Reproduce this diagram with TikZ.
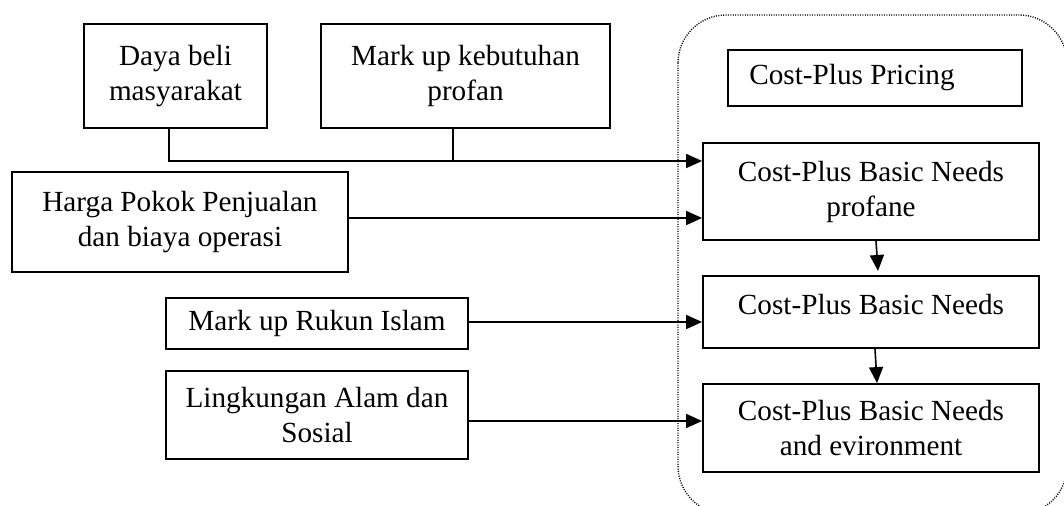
\documentclass[tikz,border=0pt]{standalone}
\usepackage{fontspec}
\setmainfont{Liberation Serif}
\usetikzlibrary{arrows.meta}
\begin{document}
\begin{tikzpicture}[x=0.5pt,y=-0.5pt,
  box/.style={draw,line width=0.9pt,inner sep=0pt,align=center,
    font=\fontsize{14.6pt}{17.5pt}\selectfont},
  conn/.style={line width=0.8pt},
  arr/.style={conn,-{Triangle[length=8pt,width=7pt]}},
  frame/.style={line width=0.7pt,dash pattern=on 0.5pt off 0.7pt,rounded corners=24pt}]
\useasboundingbox (0,0) rectangle (1064,506);
\draw[frame] (678,15) rectangle (1067,514);
\node[box,minimum width=183*0.5pt,minimum height=104*0.5pt] (daya) at (175.5,76) {Daya beli\\masyarakat};
\node[box,minimum width=289*0.5pt,minimum height=104*0.5pt] (markup) at (465.5,76) {Mark up kebutuhan\\profan};
\node[box,minimum width=336*0.5pt,minimum height=100*0.5pt] (harga) at (180,222) {Harga Pokok Penjualan\\dan biaya operasi};
\node[box,minimum width=302*0.5pt,minimum height=51*0.5pt] (rukun) at (317,323.5) {Mark up Rukun Islam};
\node[box,minimum width=302*0.5pt,minimum height=88*0.5pt] (lingk) at (317,415) {Lingkungan Alam dan\\Sosial};
\node[box,minimum width=294*0.5pt,minimum height=56*0.5pt,
  label={[font=\fontsize{14.6pt}{17.5pt}\selectfont,xshift=-11.5pt]center:Cost-Plus Pricing}] (cpp) at (875,78) {};
\node[box,minimum width=336*0.5pt,minimum height=97*0.5pt] (prof) at (871,191.5) {Cost-Plus Basic Needs\\profane};
\node[box,minimum width=336*0.5pt,minimum height=72*0.5pt,
  label={[font=\fontsize{14.6pt}{17.5pt}\selectfont,yshift=3.5pt]center:Cost-Plus Basic Needs}] (basic) at (871,312) {};
\node[box,minimum width=336*0.5pt,minimum height=88*0.5pt] (env) at (871,428) {Cost-Plus Basic Needs\\and evironment};
\coordinate (t1) at (169,161);
\coordinate (t2) at (453,161);
\coordinate (t3) at (0,218);
\coordinate (t4) at (0,322);
\coordinate (t5) at (0,421);
\coordinate (p1) at (876,0);
\coordinate (p2) at (878,0);
\coordinate (p3) at (875,0);
\coordinate (p4) at (877,0);
\coordinate (q2) at (0,271);
\draw[arr] (daya.south -| t1) |- (prof.west |- t1);
\draw[conn] (markup.south -| t2) -- (t2);
\draw[arr] (harga.east |- t3) -- (prof.west |- t3);
\draw[arr] (rukun.east |- t4) -- (basic.west |- t4);
\draw[arr] (lingk.east |- t5) -- (env.west |- t5);
\draw[arr] (prof.south -| p1) -- (q2 -| p2);
\draw[arr] (basic.south -| p3) -- (env.north -| p4);
\end{tikzpicture}
\end{document}
